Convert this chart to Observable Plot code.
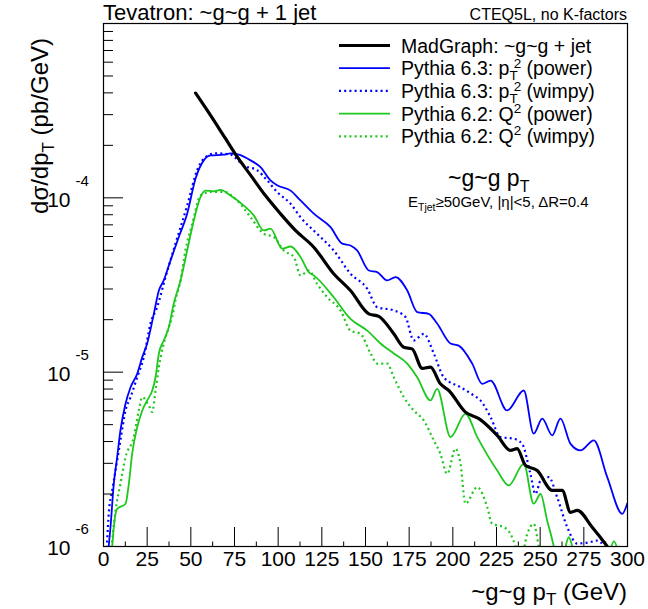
<!DOCTYPE html>
<html><head><meta charset="utf-8">
<script src="https://cdn.jsdelivr.net/npm/d3@7"></script>
<script src="https://cdn.jsdelivr.net/npm/@observablehq/plot@0.6"></script>
<style>
html,body{margin:0;padding:0;background:#fff;}
#chart{position:relative;width:648px;height:609px;}
</style></head><body><div id="chart"></div>
<script>
const FONT = '"Liberation Sans", Arial, Helvetica, sans-serif';

// ---- data (pT in GeV, dsigma/dpT in pb/GeV) ----
const madPt  = [52.7, 61.3, 69.8, 76.7, 84.2, 92.7, 101.3, 109.9, 120.4, 131.8, 141.4, 151.9, 157.6, 166.2, 171.9, 176.7, 182.5, 187.2, 192.9, 197.7, 207.2, 214.9, 225.4, 233.0, 236.8, 241.6, 248.3, 256.9, 262.6, 267.4, 271.2, 279.8, 288.4, 295];
const madVal = [3.99e-4, 2.97e-4, 2.19e-4, 1.71e-4, 1.35e-4, 1.03e-4, 8.11e-5, 6.50e-5, 5.21e-5, 3.67e-5, 2.94e-5, 2.16e-5, 2.09e-5, 1.66e-5, 1.39e-5, 1.36e-5, 1.05e-5, 1.07e-5, 8.57e-6, 7.85e-6, 5.90e-6, 5.41e-6, 4.34e-6, 3.56e-6, 3.64e-6, 2.92e-6, 2.73e-6, 2.10e-6, 2.10e-6, 1.57e-6, 1.61e-6, 1.29e-6, 1.0e-6, 8.0e-7];

const p63PowPt  = [2.0, 3.0, 4.0, 5.9, 7.8, 9.7, 12.6, 15.5, 19.3, 22.2, 25.0, 28.8, 31.7, 34.5, 38.4, 43.1, 47.9, 52.7, 57.4, 61.3, 68.9, 72.7, 77.5, 84.2, 89.9, 95.6, 99.4, 107.1, 112.8, 120.4, 130.0, 136.7, 141.4, 145.2, 151.9, 156.7, 162.4, 167.2, 173.9, 179.6, 186.2, 191.0, 198.7, 203.4, 211.1, 216.8, 221.6, 231.1, 240.6, 246.3, 251.2, 256.9, 261.6, 267.4, 273.1, 280.7, 288.4, 297.0, 299.8];
const p63PowVal = [7e-7, 1.0e-6, 1.29e-6, 2.29e-6, 3.25e-6, 4.63e-6, 6.59e-6, 8.20e-6, 9.80e-6, 1.22e-5, 1.46e-5, 2.16e-5, 2.94e-5, 3.36e-5, 4.38e-5, 5.96e-5, 8.11e-5, 1.29e-4, 1.64e-4, 1.75e-4, 1.77e-4, 1.80e-4, 1.77e-4, 1.64e-4, 1.50e-4, 1.26e-4, 1.18e-4, 1.10e-4, 9.66e-5, 8.11e-5, 6.79e-5, 5.46e-5, 5.33e-5, 4.99e-5, 3.83e-5, 3.75e-5, 3.36e-5, 3.51e-5, 2.94e-5, 2.21e-5, 2.16e-5, 1.90e-5, 1.46e-5, 1.42e-5, 1.12e-5, 8.57e-6, 8.95e-6, 6.03e-6, 7.85e-6, 4.44e-6, 5.41e-6, 4.34e-6, 5.41e-6, 3.88e-6, 3.56e-6, 4.06e-6, 2.50e-6, 1.54e-6, 1.76e-6];

const p63WimPt  = [1.5, 2.1, 3.0, 5.0, 6.9, 9.7, 12.6, 15.5, 19.3, 23.1, 26.9, 30.7, 35.5, 41.2, 47.9, 53.6, 58.4, 64.1, 72.7, 80.3, 88.0, 93.7, 99.4, 107.1, 112.8, 122.3, 131.8, 141.4, 151.0, 156.7, 166.2, 172.9, 177.6, 183.4, 189.1, 194.8, 204.4, 212.0, 215.8, 221.6, 227.3, 234.9, 239.7, 244.4, 247.3, 250.2, 254.9, 259.7, 265.5, 271.2, 278.8, 282.6, 286.4, 290];
const p63WimVal = [8e-7, 1.08e-6, 1.54e-6, 2.10e-6, 2.73e-6, 4.06e-6, 6.03e-6, 7.19e-6, 9.35e-6, 1.22e-5, 1.90e-5, 2.36e-5, 3.51e-5, 5.46e-5, 9.03e-5, 1.44e-4, 1.71e-4, 1.80e-4, 1.77e-4, 1.53e-4, 1.44e-4, 1.26e-4, 1.08e-4, 9.25e-5, 7.74e-5, 6.22e-5, 4.99e-5, 3.67e-5, 3.01e-5, 2.36e-5, 2.26e-5, 2.07e-5, 1.52e-5, 1.66e-5, 1.28e-5, 9.35e-6, 8.20e-6, 7.35e-6, 6.89e-6, 5.52e-6, 4.24e-6, 4.15e-6, 3.88e-6, 2.61e-6, 2.00e-6, 2.39e-6, 2.50e-6, 1.92e-6, 1.29e-6, 1.04e-6, 1.06e-6, 1.08e-6, 1.0e-6, 7e-7];

const p62PowPt  = [4.0, 5.0, 5.9, 7.8, 12.6, 14.5, 16.4, 19.3, 22.2, 25.0, 27.9, 29.8, 31.7, 34.5, 37.4, 40.2, 44.1, 47.9, 51.7, 55.5, 58.4, 63.1, 67.0, 72.7, 80.3, 86.0, 91.8, 95.6, 102.3, 107.1, 112.8, 117.5, 120.4, 131.8, 141.4, 151.0, 158.6, 166.2, 173.9, 179.6, 187.2, 191.0, 198.7, 207.2, 214.0, 225.4, 232.0, 240.6, 246.3, 250.2, 254.0, 257.8, 260.5, 263.5, 266.4, 269.3, 272.5, 285, 289.5, 292.2, 295, 298];
const p62PowVal = [7e-7, 1.0e-6, 1.29e-6, 1.64e-6, 1.76e-6, 2.29e-6, 3.40e-6, 4.83e-6, 6.03e-6, 6.89e-6, 7.85e-6, 9.35e-6, 1.28e-5, 1.52e-5, 1.81e-5, 2.47e-5, 3.36e-5, 4.99e-5, 7.41e-5, 1.01e-4, 1.10e-4, 1.09e-4, 1.11e-4, 1.03e-4, 9.03e-5, 7.93e-5, 6.50e-5, 6.65e-5, 5.11e-5, 5.26e-5, 4.57e-5, 3.75e-5, 3.59e-5, 2.69e-5, 2.02e-5, 1.73e-5, 1.46e-5, 1.28e-5, 1.12e-5, 9.35e-6, 6.89e-6, 8.03e-6, 4.24e-6, 5.77e-6, 4.24e-6, 2.73e-6, 2.24e-6, 2.98e-6, 1.76e-6, 2.00e-6, 1.41e-6, 1.0e-6, 7e-7, 9e-7, 1.13e-6, 9e-7, 6e-7, 6e-7, 9e-7, 1.07e-6, 9e-7, 6e-7];

const p62WimPt  = [4.0, 5.0, 6.9, 9.7, 12.6, 17.3, 20.2, 22.2, 25.9, 27.9, 29.8, 31.7, 34.5, 37.4, 39.3, 41.2, 44.1, 46.9, 50.8, 55.5, 61.3, 68.9, 76.5, 84.2, 91.8, 97.5, 103.2, 109.0, 112.8, 117.5, 122.3, 128.1, 135.7, 141.4, 147.1, 152.9, 156.7, 162.4, 166.2, 171.9, 177.6, 183.4, 189.1, 192.9, 196.8, 201.5, 204.4, 207.2, 214.0, 219.7, 222.5, 229.2, 233.0, 235.9, 238.5, 242.6, 246.3, 249.2, 252];
const p62WimVal = [8e-7, 1.08e-6, 1.61e-6, 2.29e-6, 3.25e-6, 4.24e-6, 6.03e-6, 7.19e-6, 6.44e-6, 5.90e-6, 7.85e-6, 1.07e-5, 1.46e-5, 1.81e-5, 2.07e-5, 2.58e-5, 3.36e-5, 4.99e-5, 7.10e-5, 1.03e-4, 1.08e-4, 1.08e-4, 9.66e-5, 7.74e-5, 6.22e-5, 5.96e-5, 4.99e-5, 4.57e-5, 3.59e-5, 3.83e-5, 3.21e-5, 2.69e-5, 2.26e-5, 1.73e-5, 1.66e-5, 1.28e-5, 1.12e-5, 1.12e-5, 9.35e-6, 7.19e-6, 6.03e-6, 5.28e-6, 4.06e-6, 3.40e-6, 2.61e-6, 3.64e-6, 2.98e-6, 1.76e-6, 2.19e-6, 1.68e-6, 1.35e-6, 1.29e-6, 1.18e-6, 1.0e-6, 8e-7, 1.18e-6, 1.35e-6, 1.0e-6, 7e-7];

// series styling / legend
const seriesKeys   = ["mad", "p63pow", "p63wim", "p62pow", "p62wim"];
const seriesColors = ["#000000", "#0000ff", "#0000ff", "#1ec81e", "#1ec81e"];
const seriesDash   = [null, null, "2,3.2", null, "2,3.2"];
const seriesWidth  = [3.2, 1.8, 2.2, 1.8, 2.2];
const seriesLabels = [
  [{t: "MadGraph: ~g~g + jet"}],
  [{t: "Pythia 6.3: p"}, {t: "T", s: 13.5, dy: 5}, {t: "2", s: 13.5, dx: -4, dy: -12}, {t: " (power)", dy: 7}],
  [{t: "Pythia 6.3: p"}, {t: "T", s: 13.5, dy: 5}, {t: "2", s: 13.5, dx: -4, dy: -12}, {t: " (wimpy)", dy: 7}],
  [{t: "Pythia 6.2: Q"}, {t: "2", s: 13.5, dy: -8}, {t: " (power)", dy: 8}],
  [{t: "Pythia 6.2: Q"}, {t: "2", s: 13.5, dy: -8}, {t: " (wimpy)", dy: 8}]
];

// axes
const xTickValues = [0, 25, 50, 75, 100, 125, 150, 175, 200, 225, 250, 275, 300];
const yMajorTicks = [1e-6, 1e-5, 1e-4];

const zip = (a, b) => a.map((x, i) => ({pt: x, v: b[i]}));
const seriesData = {
  mad: zip(madPt, madVal),
  p63pow: zip(p63PowPt, p63PowVal),
  p63wim: zip(p63WimPt, p63WimVal),
  p62pow: zip(p62PowPt, p62PowVal),
  p62wim: zip(p62WimPt, p62WimVal)
};

const W = 648, H = 609, ML = 103, MR = 21, MT = 23, MB = 63;
const plotW = W - ML - MR, plotH = H - MT - MB;

const xMinor = xTickValues.slice(0, -1).map(d => d + 12.5);
const xMajorInner = xTickValues.slice(1, -1);
const yMinor = [];
[-6, -5, -4].forEach(e => { for (let k = 2; k <= 9; k++) yMinor.push(k * Math.pow(10, e)); });

const lineMarks = seriesKeys.map((k, i) => Plot.line(seriesData[k], {
  x: "pt", y: "v", stroke: seriesColors[i], strokeWidth: seriesWidth[i],
  strokeDasharray: seriesDash[i] || undefined, curve: "monotone-x", clip: true,
  strokeLinecap: seriesDash[i] ? "butt" : "round"
}));
const orderedLines = [lineMarks[1], lineMarks[2], lineMarks[3], lineMarks[4], lineMarks[0]];

const chart = Plot.plot({
  width: W, height: H,
  marginLeft: ML, marginRight: MR, marginTop: MT, marginBottom: MB,
  style: {fontFamily: FONT, background: "#fff", color: "#000", overflow: "visible"},
  x: {domain: [0, 300], axis: null},
  y: {type: "log", domain: [1e-6, 1e-3], axis: null},
  marks: [
    ...orderedLines,
    Plot.tickY(yMajorTicks, {y: d => d, insetRight: plotW - 20, stroke: "#000"}),
    Plot.tickY(yMinor, {y: d => d, insetRight: plotW - 10, stroke: "#000"}),
    Plot.tickX(xMajorInner, {x: d => d, insetTop: plotH - 19, stroke: "#000"}),
    Plot.tickX(xMinor, {x: d => d, insetTop: plotH - 4.5, stroke: "#000"}),
    Plot.frame({stroke: "#000", strokeWidth: 1.2}),
    Plot.text(xTickValues, {x: d => d, frameAnchor: "bottom", dy: 19, text: d => String(d), fontSize: 21, fill: "#000"}),
    Plot.text(yMajorTicks, {y: d => d, frameAnchor: "left", dx: -33, dy: 2, textAnchor: "end", text: () => "10", fontSize: 21, fill: "#000"}),
    Plot.text(yMajorTicks, {y: d => d, frameAnchor: "left", dx: -28, dy: -17, textAnchor: "start", text: d => String(Math.round(Math.log10(d))), fontSize: 15, fill: "#000"})
  ]
});
document.getElementById("chart").appendChild(chart);

// ---- rich text (titles, legend, annotations) ----
const svg = d3.select(chart);
const g = svg.append("g").attr("font-family", FONT).attr("fill", "#000").attr("text-anchor", "start");

function rich(sel, segs) {
  segs.forEach(s => {
    const t = sel.append("tspan").text(s.t);
    if (s.s) t.attr("font-size", s.s);
    if (s.dx) t.attr("dx", s.dx);
    if (s.dy) t.attr("dy", s.dy);
  });
  return sel;
}

g.append("text").attr("x", 103).attr("y", 20).attr("font-size", 22).attr("text-anchor", "start").text("Tevatron: ~g~g + 1 jet");
g.append("text").attr("x", 627).attr("y", 20).attr("font-size", 16).attr("text-anchor", "end").text("CTEQ5L, no K-factors");

// legend
seriesKeys.forEach((k, i) => {
  const cy = 45.5 + i * 22.7;
  g.append("line").attr("x1", 339).attr("x2", 390).attr("y1", cy).attr("y2", cy)
    .attr("stroke", seriesColors[i]).attr("stroke-width", seriesWidth[i])
    .attr("stroke-dasharray", seriesDash[i] || null);
  const t = g.append("text").attr("x", 401).attr("y", cy + 7).attr("font-size", 19.5).attr("text-anchor", "start");
  rich(t, seriesLabels[i]);
});

// annotation
rich(g.append("text").attr("x", 448).attr("y", 186).attr("font-size", 23).attr("text-anchor", "start"),
  [{t: "~g~g p"}, {t: "T", s: 16, dy: 6}]);
rich(g.append("text").attr("x", 408).attr("y", 207).attr("font-size", 15).attr("text-anchor", "start"),
  [{t: "E"}, {t: "Tjet", s: 10.5, dy: 4}, {t: "\u226550GeV, |\u03b7|<5, \u0394R=0.4", dy: -4}]);

// axis titles
rich(g.append("text").attr("x", 627).attr("y", 600).attr("font-size", 24).attr("text-anchor", "end"),
  [{t: "~g~g p"}, {t: "T", s: 17, dy: 5}, {t: " (GeV)", dy: -5}]);
rich(g.append("text").attr("transform", "translate(48,38) rotate(-90)").attr("font-size", 24).attr("text-anchor", "end"),
  [{t: "d\u03c3/dp"}, {t: "T", s: 17, dy: 6}, {t: " (pb/GeV)", dy: -6}]);
</script>
</body></html>
